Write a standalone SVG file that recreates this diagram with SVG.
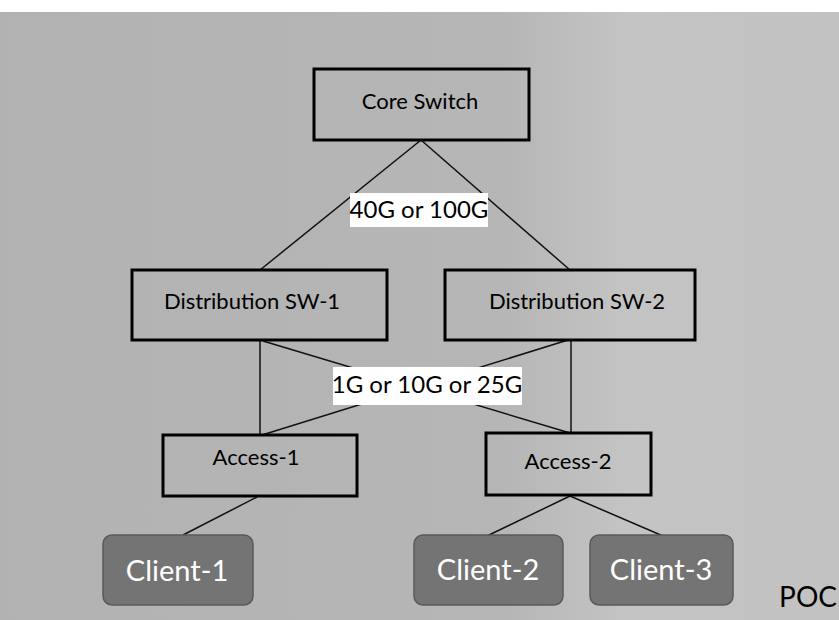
<svg xmlns="http://www.w3.org/2000/svg" width="839" height="620" viewBox="0 0 839 620">
<defs>
<linearGradient id="bg" x1="0" y1="0" x2="1" y2="0">
<stop offset="0" stop-color="#b2b2b2"/>
<stop offset="0.6" stop-color="#b6b6b6"/>
<stop offset="0.75" stop-color="#c4c4c4"/>
<stop offset="1" stop-color="#c2c2c2"/>
</linearGradient>
</defs>
<style>
.box{fill:none;stroke:#000;stroke-width:3}
.client{fill:#747474;stroke:#5a5a5a;stroke-width:1.5}
.lbl{fill:#fff}
.t{font-family:Lato,"Open Sans","Liberation Sans",sans-serif;font-size:22px;fill:#000;text-anchor:middle}
.lt{font-family:Lato,"Open Sans","Liberation Sans",sans-serif;font-size:24px;fill:#000;text-anchor:middle}
.ct{font-family:Lato,"Open Sans","Liberation Sans",sans-serif;font-size:29px;fill:#fff;text-anchor:middle}
.poc{font-family:Lato,"Open Sans","Liberation Sans",sans-serif;font-size:28px;fill:#000;text-anchor:end}
.c{stroke:#111;stroke-width:1.5;fill:none}
</style>
<rect x="0" y="0" width="839" height="620" fill="#fff"/>
<rect x="0" y="12" width="839" height="608" fill="url(#bg)"/>
<g id="connectors">
<line class="c" x1="421" y1="140" x2="260" y2="270"/>
<line class="c" x1="421" y1="140" x2="570" y2="270"/>
<line class="c" x1="260" y1="340" x2="260" y2="435"/>
<line class="c" x1="263" y1="341" x2="570" y2="433"/>
<line class="c" x1="571" y1="340" x2="571" y2="433"/>
<line class="c" x1="568" y1="340" x2="262" y2="435"/>
<line class="c" x1="257" y1="497" x2="183" y2="535"/>
<line class="c" x1="570" y1="496" x2="487" y2="536"/>
<line class="c" x1="570" y1="496" x2="663" y2="536"/>
</g>
<g id="label-40g">
<rect class="lbl" x="350" y="193" width="138" height="34"/>
<text class="lt" x="419" y="218">40G or 100G</text>
</g>
<g id="label-1g">
<rect class="lbl" x="333" y="367" width="189" height="38"/>
<text class="lt" x="427" y="393">1G or 10G or 25G</text>
</g>
<g id="core">
<rect class="box" x="314" y="69" width="215" height="71"/>
<text class="t" x="420" y="109">Core Switch</text>
</g>
<g id="dsw1">
<rect class="box" x="132" y="270" width="255" height="70"/>
<text class="t" x="252" y="309">Distribution SW-1</text>
</g>
<g id="dsw2">
<rect class="box" x="445" y="270" width="250" height="70"/>
<text class="t" x="577" y="309">Distribution SW-2</text>
</g>
<g id="access1">
<rect class="box" x="163" y="435" width="194" height="61"/>
<text class="t" x="256" y="465">Access-1</text>
</g>
<g id="access2">
<rect class="box" x="486" y="433" width="165" height="62"/>
<text class="t" x="568" y="469">Access-2</text>
</g>
<g id="client1">
<rect class="client" x="103" y="535" width="150" height="70" rx="9"/>
<text class="ct" x="177" y="581">Client-1</text>
</g>
<g id="client2">
<rect class="client" x="414" y="535" width="149" height="70" rx="9"/>
<text class="ct" x="488" y="580">Client-2</text>
</g>
<g id="client3">
<rect class="client" x="590" y="535" width="143" height="70" rx="9"/>
<text class="ct" x="661" y="580">Client-3</text>
</g>
<text class="poc" x="837" y="607">POC</text>
</svg>
